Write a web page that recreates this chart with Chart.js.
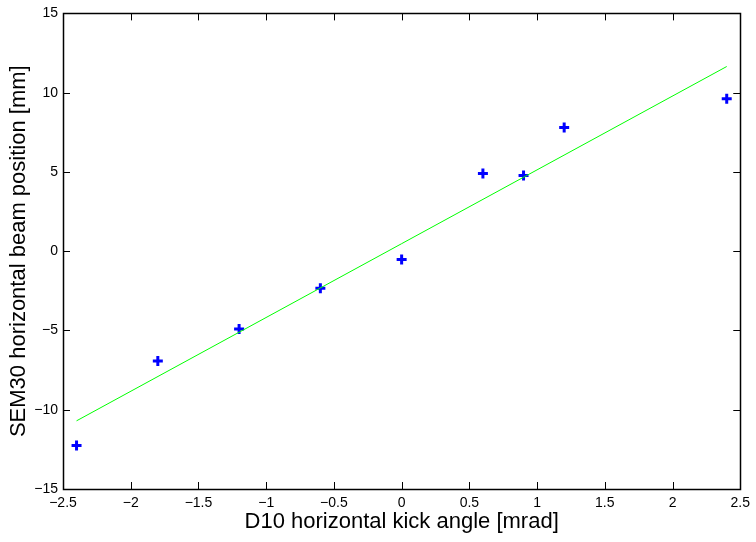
<!DOCTYPE html>
<html>
<head>
<meta charset="utf-8">
<script src="https://cdn.jsdelivr.net/npm/chart.js@4"></script>
<style>
  html, body { margin: 0; padding: 0; background: #fff; }
  canvas { display: block; }
</style>
</head>
<body>
<canvas id="grafico" width="756" height="542"></canvas>
<script>
// kick angle vs beam position (measured points + linear fit)
const kickAngles = [-2.4, -1.8, -1.2, -0.6, 0, 0.6, 0.9, 1.2, 2.4];
const beamPositions = [-12.25, -6.92, -4.91, -2.33, -0.53, 4.9, 4.77, 7.8, 9.62];
const fitAngles = [-2.4, 2.4];
const fitPositions = [-10.7, 11.65];
const xTicks = [-2.5, -2, -1.5, -1, -0.5, 0, 0.5, 1, 1.5, 2, 2.5];
const yTicks = [-15, -10, -5, 0, 5, 10, 15];

const fonte = "'Liberation Sans', Arial, Helvetica, sans-serif";

function rotulo(v) {
  return String(v).replace('-', '\u2212');
}

// moldura estilo MATLAB com marcas para dentro
const moldura = {
  id: 'moldura',
  afterDraw(chart) {
    const { ctx, chartArea: a, scales } = chart;
    const tam = 7;
    ctx.save();
    ctx.strokeStyle = '#000';
    ctx.lineWidth = 1;
    ctx.beginPath();
    xTicks.forEach(v => {
      const x = Math.round(scales.x.getPixelForValue(v)) + 0.5;
      ctx.moveTo(x, a.bottom); ctx.lineTo(x, a.bottom - tam);
      ctx.moveTo(x, a.top); ctx.lineTo(x, a.top + tam);
    });
    yTicks.forEach(v => {
      const y = Math.round(scales.y.getPixelForValue(v)) + 0.5;
      ctx.moveTo(a.left, y); ctx.lineTo(a.left + tam, y);
      ctx.moveTo(a.right, y); ctx.lineTo(a.right - tam, y);
    });
    ctx.stroke();
    ctx.lineWidth = 1.5;
    ctx.strokeRect(Math.round(a.left) + 0.5, Math.round(a.top) + 0.5,
      Math.round(a.right - a.left), Math.round(a.bottom - a.top));
    ctx.restore();
  }
};

new Chart(document.getElementById('grafico'), {
  type: 'scatter',
  data: {
    datasets: [
      {
        label: 'fit',
        type: 'line',
        data: fitAngles.map((x, i) => ({ x: x, y: fitPositions[i] })),
        borderColor: '#00ff00',
        borderWidth: 1,
        pointRadius: 0,
        fill: false
      },
      {
        label: 'medido',
        data: kickAngles.map((x, i) => ({ x: x, y: beamPositions[i] })),
        pointStyle: 'cross',
        pointRadius: 5,
        borderColor: '#0000ff',
        backgroundColor: '#0000ff',
        borderWidth: 3
      }
    ]
  },
  plugins: [moldura],
  options: {
    responsive: false,
    animation: false,
    devicePixelRatio: 1,
    layout: { padding: { top: 10, right: 12, left: 0, bottom: 0 } },
    plugins: { legend: { display: false }, tooltip: { enabled: false } },
    scales: {
      x: {
        type: 'linear', min: -2.5, max: 2.5,
        afterFit(s) { s.height = 53; },
        afterBuildTicks(s) { s.ticks = xTicks.map(v => ({ value: v })); },
        grid: { display: false, drawTicks: false },
        border: { display: false },
        ticks: { color: '#000', padding: 6, autoSkip: false, maxRotation: 0, font: { family: fonte, size: 14 }, callback: rotulo },
        title: { display: true, text: 'D10 horizontal kick angle [mrad]', color: '#000',
                 font: { family: fonte, size: 22 }, padding: { top: 0, bottom: 7 } }
      },
      y: {
        type: 'linear', min: -15, max: 15,
        afterFit(s) { s.width = 63; },
        afterBuildTicks(s) { s.ticks = yTicks.map(v => ({ value: v })); },
        grid: { display: false, drawTicks: false },
        border: { display: false },
        ticks: { color: '#000', padding: 5, autoSkip: false, font: { family: fonte, size: 14 }, callback: rotulo },
        title: { display: true, text: 'SEM30 horizontal beam position [mm]', color: '#000',
                 font: { family: fonte, size: 22 }, padding: { top: 6, bottom: 0 } }
      }
    }
  }
});
</script>
</body>
</html>
